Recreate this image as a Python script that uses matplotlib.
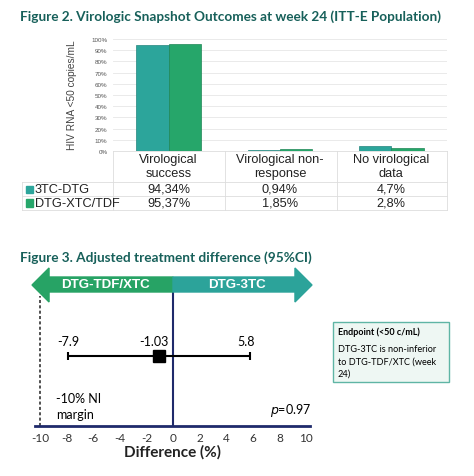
import numpy as np
import matplotlib
matplotlib.use("Agg")
import matplotlib.pyplot as plt
from matplotlib.patches import Rectangle, Polygon
from matplotlib.transforms import blended_transform_factory

W, H = 474, 477

# ---- data ----
categories = ["Virological\nsuccess", "Virological non-\nresponse", "No virological\ndata"]
series_names = ["3TC-DTG", "DTG-XTC/TDF"]
dtg_3tc = [94.34, 0.94, 4.7]
dtg_xtc_tdf = [95.37, 1.85, 2.8]
yticks = list(range(0, 101, 10))

diff_est = -1.03
diff_lo = -7.9
diff_hi = 5.8
ni_margin = -10
p_value = 0.97
diff_ticks = list(range(-10, 11, 2))

teal = "#2ca59b"
green = "#26a66a"
title_col = "#17605a"
navy = "#1f2a6b"


def fx(px):
    return px / W


def fy(py):
    return 1 - py / H


fig = plt.figure(figsize=(W / 100, H / 100), dpi=100)

fig.text(fx(20), fy(17), "Figure 2. Virologic Snapshot Outcomes at week 24 (ITT-E Population)",
         fontsize=9.8, fontweight="bold", color=title_col, family="Lato", va="center")

# ---- bar chart ----
ax1 = fig.add_axes([fx(113), fy(152), (447 - 113) / W, (152 - 40) / H])
x = np.arange(len(categories))
bw = 0.29
ax1.bar(x - bw / 2, dtg_3tc, bw, color=teal, edgecolor="#23857e", linewidth=0.5, zorder=3)
ax1.bar(x + bw / 2, dtg_xtc_tdf, bw, color=green, edgecolor="#1f8656", linewidth=0.5, zorder=3)
ax1.set_xlim(-0.5, 2.5)
ax1.set_ylim(0, 100)
ax1.set_yticks(yticks)
ax1.set_yticklabels([f"{t}%" for t in yticks], fontsize=4.5, color="#555555", family="Liberation Sans")
ax1.tick_params(axis="y", length=0, pad=4)
ax1.set_xticks([])
ax1.grid(axis="y", color="#e6e6e6", linewidth=0.6, zorder=0)
for s in ax1.spines.values():
    s.set_visible(False)
fig.text(fx(72), fy(95), "HIV RNA <50 copies/mL", rotation=90, fontsize=7.3, color="#444444",
         family="Liberation Sans", ha="center", va="center")

# ---- data table under bars ----
tr = blended_transform_factory(ax1.transData, fig.transFigure)
line_col = "#dddddd"
for yy in [183, 197, 211]:
    fig.add_artist(plt.Line2D([fx(22), fx(447)], [fy(yy), fy(yy)], color=line_col, lw=0.6))
fig.add_artist(plt.Line2D([fx(113), fx(447)], [fy(152), fy(152)], color=line_col, lw=0.6))
for xx in [113, 225, 337, 447]:
    fig.add_artist(plt.Line2D([fx(xx), fx(xx)], [fy(152), fy(211)], color=line_col, lw=0.6))
fig.add_artist(plt.Line2D([fx(22), fx(22)], [fy(183), fy(211)], color=line_col, lw=0.6))

for i, c in enumerate(categories):
    ax1.text(i, fy(167), c, transform=tr, ha="center", va="center", fontsize=9.2,
             family="Liberation Sans", color="#222222", linespacing=1.15)
    ax1.text(i, fy(190), str(dtg_3tc[i]).replace(".", ",") + "%", transform=tr, ha="center",
             va="center", fontsize=9.2, family="Liberation Sans", color="#222222")
    ax1.text(i, fy(204), str(dtg_xtc_tdf[i]).replace(".", ",") + "%", transform=tr, ha="center",
             va="center", fontsize=9.2, family="Liberation Sans", color="#222222")

for name, col, yy in zip(series_names, [teal, green], [190, 204]):
    fig.add_artist(Rectangle((fx(26), fy(yy + 3.5)), 7 / W, 7 / H, color=col, transform=fig.transFigure))
    fig.text(fx(35), fy(yy), name, fontsize=9.2, family="Liberation Sans", color="#222222", va="center")

# ---- forest plot ----
fig.text(fx(20), fy(258), "Figure 3. Adjusted treatment difference (95%CI)",
         fontsize=9.8, fontweight="bold", color=title_col, family="Lato", va="center")

ax2 = fig.add_axes([fx(35), fy(427), (310 - 35) / W, (427 - 268) / H])
ax2.set_xlim(-10.376, 10.30)
ax2.set_ylim(0, 159)
for k in ["top", "right", "left"]:
    ax2.spines[k].set_visible(False)
ax2.spines["bottom"].set_color(navy)
ax2.spines["bottom"].set_linewidth(2)
ax2.set_yticks([])
ax2.set_xticks(diff_ticks)
ax2.set_xticklabels([str(t) for t in diff_ticks], fontsize=8.5, color="#333333", family="Lato")
ax2.tick_params(axis="x", length=0, pad=4)
ax2.set_xlabel("Difference (%)", fontsize=11, fontweight="bold", family="Lato", color="#222222", labelpad=1)

ax2.plot([0, 0], [0, 140], color=navy, lw=1.5, zorder=1)
ax2.plot([ni_margin, ni_margin], [0, 130], color="#222222", lw=1.1, ls=(0, (2, 1.5)), zorder=1)

ax2.errorbar([diff_est], [70], xerr=[[diff_est - diff_lo], [diff_hi - diff_est]], fmt="s",
             color="black", ms=9, capsize=3, capthick=1.5, elinewidth=1.5, zorder=3)
ax2.text(diff_lo, 85, f"{diff_lo}", ha="center", va="center", fontsize=9, family="Lato")
ax2.text(diff_est - 0.4, 85, f"{diff_est}", ha="center", va="center", fontsize=9, family="Lato")
ax2.text(diff_hi - 0.3, 85, f"{diff_hi}", ha="center", va="center", fontsize=9, family="Lato")
ax2.text(-8.8, 20, f"{ni_margin}% NI\nmargin", ha="left", va="center", fontsize=9, family="Lato",
         linespacing=1.4)
ax2.text(10.4, 16, f"$p$={p_value}", ha="right", va="center", fontsize=9, family="Lato")

# double arrow banner
tip_l, tip_r, head = -10.6, 10.45, 1.28
b0, b1, h0, h1, mid = 134, 149, 124, 158, 141
left_arrow = Polygon([(0, b0), (0, b1), (tip_l + head, b1), (tip_l + head, h1), (tip_l, mid),
                      (tip_l + head, h0), (tip_l + head, b0)], closed=True, color="#27a365",
                     clip_on=False, zorder=4)
right_arrow = Polygon([(0, b0), (0, b1), (tip_r - head, b1), (tip_r - head, h1), (tip_r, mid),
                       (tip_r - head, h0), (tip_r - head, b0)], closed=True, color="#2ca39a",
                      clip_on=False, zorder=4)
ax2.add_patch(left_arrow)
ax2.add_patch(right_arrow)
ax2.text(-5.1, 141.5, "DTG-TDF/XTC", color="white", fontweight="bold", fontsize=9.6,
         family="Liberation Sans", ha="center", va="center", zorder=5)
ax2.text(4.8, 141.5, "DTG-3TC", color="white", fontweight="bold", fontsize=9.6,
         family="Liberation Sans", ha="center", va="center", zorder=5)

# endpoint box
fig.add_artist(Rectangle((fx(333), fy(383)), (449 - 333) / W, (383 - 323) / H, transform=fig.transFigure,
                         facecolor="#eef7f3", edgecolor="#5fb5a5", lw=1))
fig.text(fx(338), fy(332), "Endpoint (<50 c/mL)", fontsize=6.5, fontweight="bold", family="Lato", va="center")
fig.text(fx(338), fy(345), "DTG-3TC is non-inferior\nto DTG-TDF/XTC (week\n24)", fontsize=6.6,
         family="Lato", va="top", linespacing=1.45)

fig.savefig("out.png", dpi=100)
